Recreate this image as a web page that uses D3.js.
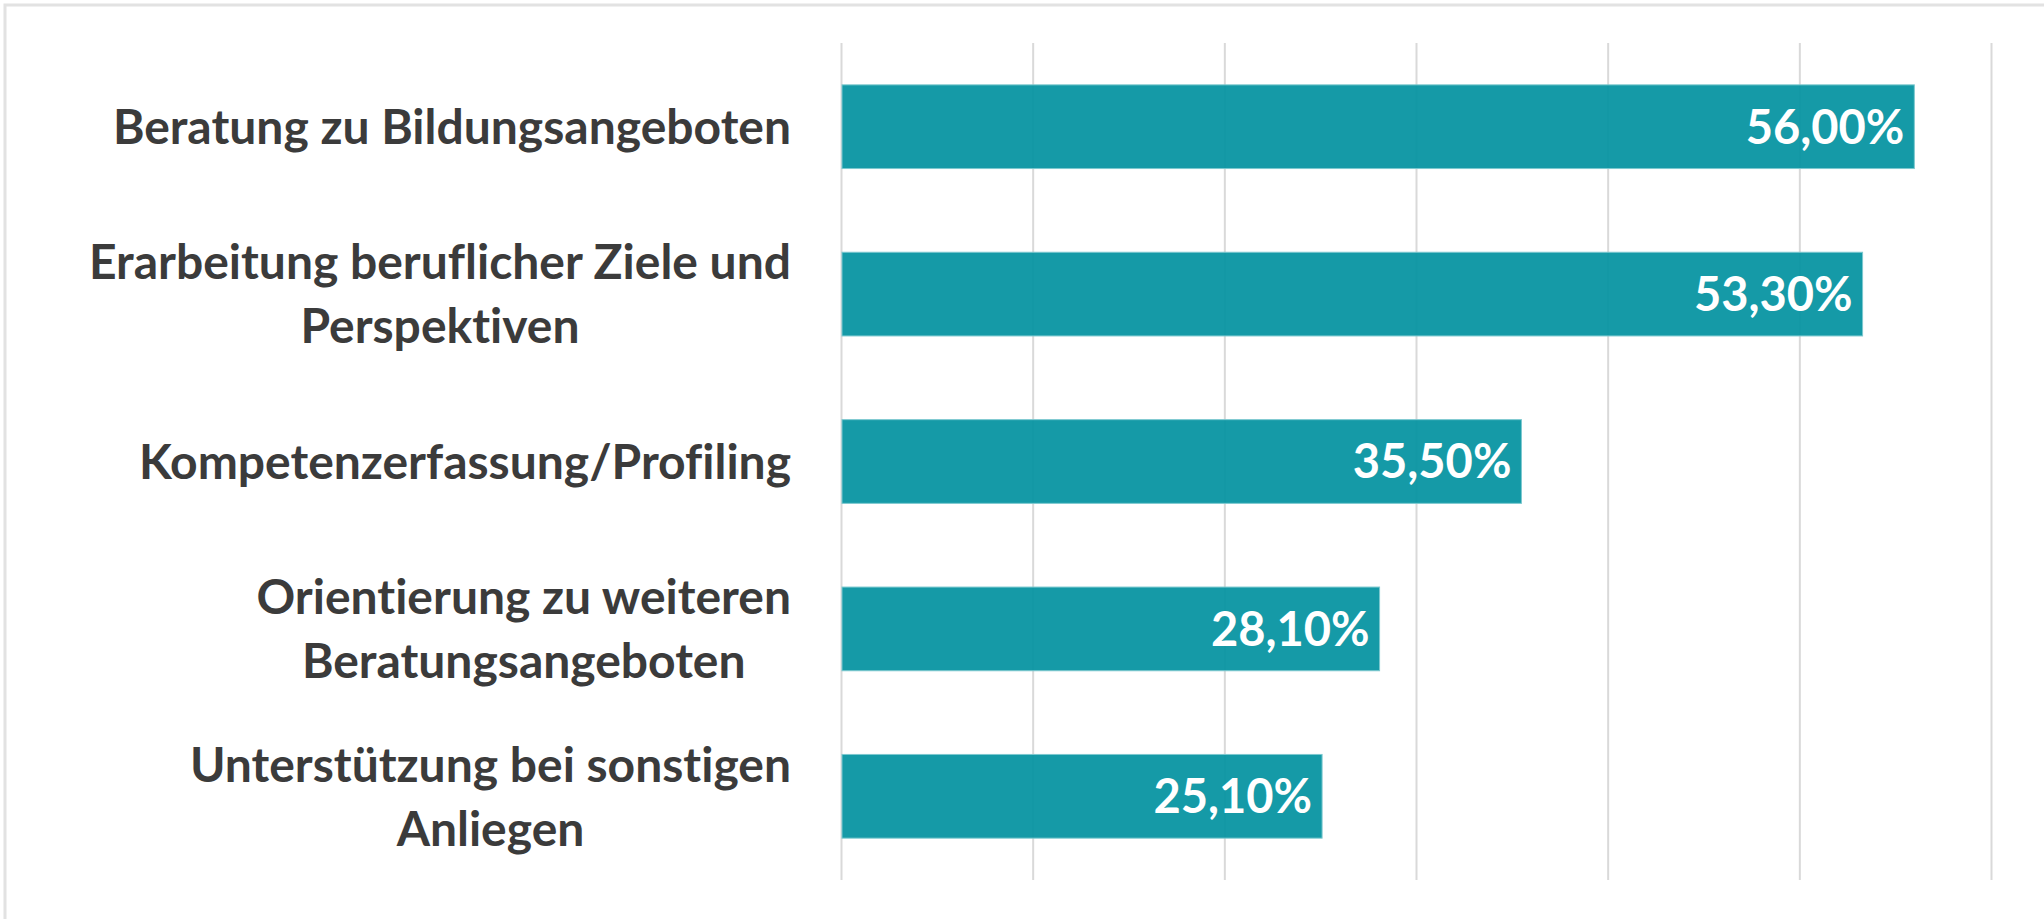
<!DOCTYPE html>
<html>
<head>
<meta charset="utf-8">
<script src="https://cdn.jsdelivr.net/npm/d3@7"></script>
<style>
  html, body { margin: 0; padding: 0; background: #fff; }
  svg { display: block; }
  text { font-variant-ligatures: none; font-feature-settings: "liga" 0, "dlig" 0; }
</style>
</head>
<body>
<svg id="chart" width="2044" height="919"></svg>
<script>
// categories (each entry = lines of the wrapped label)
const categories = [
  ["Beratung zu Bildungsangeboten"],
  ["Erarbeitung beruflicher Ziele und", "Perspektiven"],
  ["Kompetenzerfassung/Profiling"],
  ["Orientierung zu weiteren", "Beratungsangeboten"],
  ["Unterstützung bei sonstigen", "Anliegen"]
];
const values = [56.0, 53.3, 35.5, 28.1, 25.1];
const valueLabels = ["56,00%", "53,30%", "35,50%", "28,10%", "25,10%"];
const xTicks = [0, 10, 20, 30, 40, 50, 60];

const svg = d3.select("#chart"),
  margin = {top: 43, right: 53, bottom: 39, left: 841},
  W = +svg.attr("width"),
  H = +svg.attr("height"),
  width = W - margin.left - margin.right,
  height = H - margin.top - margin.bottom;

const font = "Lato, 'Open Sans', sans-serif";
const textColor = "#3b3b3b";

// outer frame (cropped on right/bottom)
svg.append("rect")
  .attr("x", 5).attr("y", 5)
  .attr("width", W + 20).attr("height", H + 20)
  .attr("fill", "none")
  .attr("stroke", "#e2e2e2")
  .attr("stroke-width", 3);

const g = svg.append("g").attr("transform", `translate(${margin.left},${margin.top})`);

const x = d3.scaleLinear().domain([0, 60]).range([0, width]);
const y = d3.scaleBand()
  .domain(d3.range(values.length))
  .range([0, height])
  .paddingInner(0.5)
  .paddingOuter(0.25);

// gridlines
g.append("g")
  .call(d3.axisBottom(x).tickValues(xTicks).tickSize(height).tickFormat(""))
  .call(a => a.select(".domain").remove())
  .selectAll(".tick line")
  .attr("stroke", "#d9d9d9")
  .attr("stroke-width", 2);

// bars
g.selectAll("rect.bar").data(values)
  .enter().append("rect")
  .attr("class", "bar")
  .attr("x", x(0) + 1)
  .attr("y", (d, i) => y(i))
  .attr("width", d => x(d) - x(0) - 1)
  .attr("height", y.bandwidth())
  .attr("fill", "#0392a0")
  .attr("fill-opacity", 0.93)
  .attr("stroke", "#7cc8cf")
  .attr("stroke-width", 1);

// value labels
g.selectAll("text.val").data(values)
  .enter().append("text")
  .attr("class", "val")
  .attr("x", d => x(d) - 10)
  .attr("y", (d, i) => y(i) + y.bandwidth() / 2)
  .attr("dy", "0.36em")
  .attr("text-anchor", "end")
  .attr("fill", "#fff")
  .style("font-family", font)
  .style("font-weight", 700)
  .style("font-size", "47px")
  .text((d, i) => valueLabels[i]);

// category labels, centered lines, block right-aligned to labelRight
const labelRight = -50;
const lineH = 64;
categories.forEach((lines, i) => {
  const t = g.append("text")
    .attr("fill", textColor)
    .style("font-family", font)
    .style("font-weight", 700)
    .style("font-size", "48px");
  const cy = y(i) + y.bandwidth() / 2;
  const spans = lines.map((l, k) => t.append("tspan")
    .attr("y", cy + (k - (lines.length - 1) / 2) * lineH)
    .attr("dy", "0.36em")
    .text(l));
  const maxW = d3.max(spans, s => s.node().getComputedTextLength());
  spans.forEach(s => s.attr("x", labelRight - maxW / 2).attr("text-anchor", "middle"));
});
</script>
</body>
</html>
